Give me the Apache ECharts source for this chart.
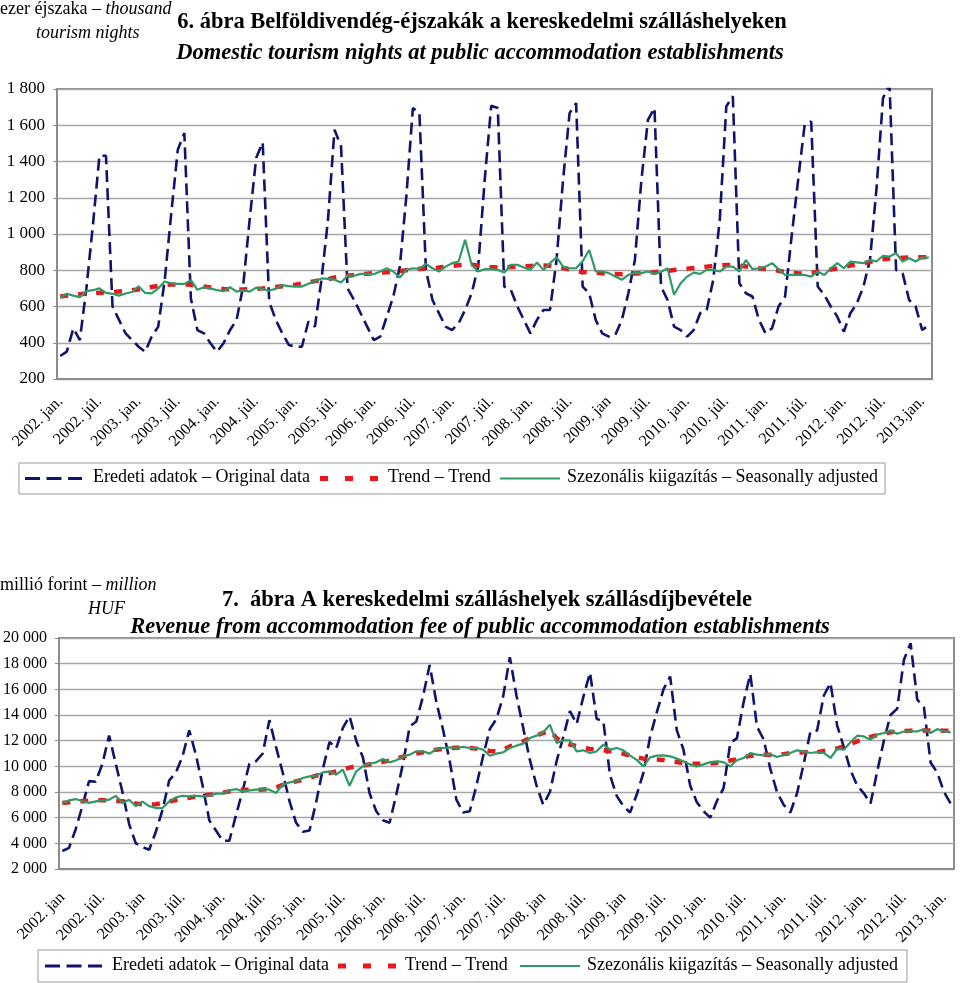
<!DOCTYPE html>
<html>
<head>
<meta charset="utf-8">
<script src="https://cdn.jsdelivr.net/npm/echarts@6/dist/echarts.min.js"></script>
<style>
html,body{margin:0;padding:0;background:#ffffff;}
#chart{width:960px;height:983px;}
</style>
</head>
<body>
<div id="chart"></div>
<script>
// ---------- categories: 2002 jan – 2013 feb (monthly) ----------
const years = [2002,2003,2004,2005,2006,2007,2008,2009,2010,2011,2012,2013];
const monthNames = ['jan.','febr.','márc.','ápr.','máj.','jún.','júl.','aug.','szept.','okt.','nov.','dec.'];
const months = [];
years.forEach(y => monthNames.forEach((m, k) => { if (y < 2013 || k < 2) months.push(y + '. ' + m); }));

// ---------- tick labels (every 6 months) ----------
const nightsTickLabels = ['2002. jan.','2002. júl.','2003. jan.','2003. júl.','2004. jan.','2004. júl.','2005. jan.','2005. júl.','2006. jan.','2006. júl.','2007. jan.','2007. júl.','2008. jan.','2008. júl.','2009. jan','2009. júl.','2010. jan.','2010. júl.','2011. jan.','2011. júl.','2012. jan.','2012. júl.','2013.jan.'];
const revenueTickLabels = ['2002. jan','2002. júl.','2003. jan','2003. júl.','2004. jan.','2004. júl.','2005. jan.','2005. júl.','2006. jan.','2006. júl.','2007. jan.','2007. júl.','2008. jan','2008. júl.','2009. jan','2009. júl.','2010. jan.','2010. júl.','2011. jan.','2011. júl.','2012. jan.','2012. júl.','2013. jan.'];

// ---------- 6. ábra: domestic tourism nights (thousand) ----------
const nightsOriginal = [
  327,351,480,415,700,1050,1432,1432,600,526,452,415,
  378,350,434,489,747,1115,1465,1557,645,470,452,397,
  350,397,470,526,710,1078,1419,1505,627,526,452,388,
  378,378,517,489,747,1078,1575,1483,700,636,563,489,
  415,434,544,655,820,1207,1695,1667,802,636,563,489,
  470,507,581,673,820,1299,1708,1695,710,692,600,526,
  452,526,581,581,857,1299,1667,1722,710,673,526,452,
  434,443,526,673,857,1299,1630,1695,710,636,489,470,
  434,470,563,581,747,1078,1704,1760,728,673,655,526,
  452,480,600,655,986,1299,1603,1621,710,664,600,544,
  461,563,618,710,857,1250,1750,1824,802,783,636,600,
  470,498
];
const nightsTrend = [
  655,660,663,667,670,673,676,678,680,683,686,690,
  694,700,708,714,718,721,722,722,720,716,710,705,
  700,697,695,694,694,695,697,700,704,708,712,716,
  720,726,733,740,746,750,760,765,770,774,778,781,
  784,787,789,792,796,800,804,808,810,811,815,820,
  824,828,830,830,826,821,817,817,817,818,820,822,
  824,825,826,825,820,812,805,795,790,788,786,783,
  780,779,778,780,782,784,786,789,793,797,801,805,
  809,813,816,820,824,827,829,829,826,821,816,811,
  807,803,797,790,786,783,781,785,792,798,804,810,
  818,826,833,839,846,854,860,865,867,869,870,871,
  872,872
];
const nightsSA = [
  650,670,660,652,685,690,700,675,670,660,672,680,
  712,675,672,700,738,728,725,725,745,692,706,700,
  690,684,706,682,690,682,704,696,688,697,718,712,
  710,710,725,740,755,752,748,732,770,770,780,780,
  778,793,811,793,760,802,811,808,835,811,793,820,
  839,848,968,830,793,806,806,802,787,830,830,815,
  802,843,802,839,872,820,811,811,850,912,793,793,
  784,765,747,774,787,784,793,780,790,811,665,728,
  765,787,780,802,802,793,820,820,793,857,806,811,
  820,839,806,774,774,774,774,765,793,774,811,839,
  811,848,843,839,857,848,880,876,894,848,866,848,
  870,870
];

// ---------- 7. ábra: revenue from accommodation fee (million HUF) ----------
const revenueOriginal = [
  3400,3650,5100,6900,8850,8800,10200,12400,10200,8000,5500,4000,
  3700,3500,4900,6600,8900,9500,10800,12800,10900,8500,5800,5000,
  4200,4200,6200,8100,10200,10400,11000,13600,11500,9500,7300,5600,
  4900,5000,7200,9800,11900,11400,13000,13900,12000,10700,7900,6500,
  5800,5600,7800,10200,13100,13500,15450,17900,15000,12850,10400,7400,
  6400,6500,8500,10800,12900,13700,15450,18500,15500,13000,10500,8500,
  7000,8000,10400,12300,14300,13300,15400,17300,13700,13500,9300,7700,
  6900,6400,7800,9500,12300,14200,16000,17000,12800,11300,8500,7200,
  6500,6000,7300,8300,11800,12200,15000,17200,13100,12100,9800,8000,
  7000,6400,7900,10200,12700,12800,15500,16500,13200,11500,9700,8500,
  7900,7100,9600,12000,14000,14500,18300,19600,15200,14600,10300,9500,
  8000,7100
];
const revenueTrend = [
  7150,7200,7250,7300,7330,7350,7350,7350,7330,7280,7200,7100,
  7050,7020,7050,7150,7270,7370,7460,7550,7650,7720,7780,7820,
  7950,8050,8120,8170,8180,8180,8190,8220,8350,8550,8700,8830,
  8960,9100,9280,9380,9480,9600,9750,9900,10000,10050,10150,10250,
  10350,10450,10600,10750,10880,11000,11100,11200,11300,11370,11420,11440,
  11440,11420,11380,11300,11200,11170,11300,11550,11750,11950,12200,12400,
  12600,12800,12200,11850,11700,11570,11450,11350,11300,11250,11170,11080,
  10980,10850,10700,10600,10570,10540,10500,10400,10330,10250,10210,10200,
  10200,10220,10270,10330,10450,10550,10700,10820,10880,10910,10910,10910,
  10950,11030,11060,11090,11090,11100,11200,11300,11400,11550,11750,11950,
  12150,12300,12430,12550,12650,12720,12760,12780,12790,12800,12800,12790,
  12780,12770
];
const revenueSA = [
  7100,7350,7450,7280,7150,7270,7350,7400,7700,7150,7400,6900,
  7250,6900,6750,6750,7270,7580,7710,7660,7710,7660,7710,7870,
  7870,8130,8230,8050,8130,8180,8230,8180,7920,8570,8750,8830,
  9090,9220,9270,9530,9610,9350,9740,8490,9610,10000,10200,10310,
  10570,10310,10470,10780,10910,11170,11170,10990,11350,11430,11480,11430,
  11510,11430,11430,11300,10830,10990,11090,11430,11610,11770,12210,12390,
  12650,13250,11820,12020,12020,11170,11250,11040,11170,11690,11300,11430,
  11250,10830,10500,10000,10700,10830,10860,10780,10600,10390,10150,10000,
  10150,10330,10390,10330,10000,10470,10650,11030,10910,10850,10950,10730,
  10900,11040,11250,11170,11040,11100,11040,10650,11350,11300,11870,12390,
  12330,12080,12470,12600,12800,12540,12720,12720,12720,12900,12600,12900,
  12720,12650
];

// ---------- styles ----------
const SERIF = '"Liberation Serif","Times New Roman",serif';
const NAVY = '#10146a', RED = '#e5191e', GREEN = '#2f9a66';
const GRIDLINE = '#a6a6a6', FRAME = '#8c8c8c';

function spaced(v) { return String(v).replace(/\B(?=(\d{3})+(?!\d))/g, ' '); }

function xAxisFor(gridIndex, ticks, margin) {
  return {
    type: 'category', gridIndex: gridIndex, data: months, boundaryGap: true,
    axisLine: { show: true, lineStyle: { color: FRAME, width: 2 } },
    axisTick: { show: false },
    splitLine: { show: false },
    axisLabel: {
      interval: 5, rotate: 45, margin: margin,
      fontFamily: SERIF, fontSize: 16, color: '#000',
      formatter: (v, idx) => ticks[Math.round(idx / 6)] || ''
    }
  };
}
function yAxisFor(gridIndex, min, max, step, size) {
  return {
    type: 'value', gridIndex: gridIndex, min: min, max: max, interval: step,
    axisLine: { show: true, lineStyle: { color: FRAME, width: 2 } },
    axisTick: { show: true, length: 4, lineStyle: { color: FRAME } },
    splitLine: { show: true, lineStyle: { color: GRIDLINE, width: 1.3 } },
    axisLabel: { fontFamily: SERIF, fontSize: size, color: '#000', margin: 12, formatter: spaced }
  };
}
function seriesFor(idx, orig, trend, sa) {
  return [
    { name: 'Eredeti adatok – Original data', type: 'line', xAxisIndex: idx, yAxisIndex: idx,
      data: orig, symbol: 'none', animation: false, z: 2,
      lineStyle: { color: NAVY, width: 2.6, type: [12, 6] } },
    { name: 'Trend – Trend', type: 'line', xAxisIndex: idx, yAxisIndex: idx,
      data: trend, symbol: 'none', animation: false, z: 3,
      lineStyle: { color: RED, width: 4.5, type: [8, 10] } },
    { name: 'Szezonális kiigazítás – Seasonally adjusted', type: 'line', xAxisIndex: idx, yAxisIndex: idx,
      data: sa, symbol: 'none', animation: false, z: 4,
      lineStyle: { color: GREEN, width: 2.2 } }
  ];
}

function legendGraphic(x, y, w, h, pos) {
  const cy = y + h / 2;
  const t = (left, text) => ({ type: 'text', left: left, top: cy - 10,
    style: { text: text, font: '18px ' + SERIF, fill: '#000' } });
  return [
    { type: 'rect', shape: { x: x, y: y, width: w, height: h },
      style: { fill: '#fff', stroke: '#9a9a9a', lineWidth: 1 } },
    { type: 'line', shape: { x1: pos[0], y1: cy, x2: pos[1], y2: cy },
      style: { stroke: NAVY, lineWidth: 2.8, lineDash: [15, 6.5] } },
    t(pos[2], 'Eredeti adatok – Original data'),
    { type: 'line', shape: { x1: pos[3], y1: cy, x2: pos[4], y2: cy },
      style: { stroke: RED, lineWidth: 5, lineDash: [8, 17] } },
    t(pos[5], 'Trend – Trend'),
    { type: 'line', shape: { x1: pos[6], y1: cy, x2: pos[7], y2: cy },
      style: { stroke: GREEN, lineWidth: 2.2 } },
    t(pos[8], 'Szezonális kiigazítás – Seasonally adjusted')
  ];
}

const chart = echarts.init(document.getElementById('chart'), null, { renderer: 'canvas' });
chart.setOption({
  backgroundColor: '#ffffff',
  animation: false,
  grid: [
    { left: 57, top: 89, width: 875, height: 290, show: true, borderColor: FRAME, borderWidth: 2, backgroundColor: 'transparent' },
    { left: 57, top: 638, width: 897, height: 231, show: true, borderColor: FRAME, borderWidth: 2, backgroundColor: 'transparent' }
  ],
  xAxis: [ xAxisFor(0, nightsTickLabels, 20), xAxisFor(1, revenueTickLabels, 26) ],
  yAxis: [ yAxisFor(0, 200, 1800, 200, 17), yAxisFor(1, 2000, 20000, 2000, 16) ],
  series: seriesFor(0, nightsOriginal, nightsTrend, nightsSA).concat(seriesFor(1, revenueOriginal, revenueTrend, revenueSA)),
  graphic: [
    { type: 'text', left: 0, top: 0, style: { text: '{n|ezer éjszaka – }{i|thousand}', font: '18px ' + SERIF, fill: '#000',
      rich: { n: { font: '18px ' + SERIF }, i: { font: 'italic 18px ' + SERIF } } } },
    { type: 'text', left: 36, top: 24, style: { text: 'tourism nights', font: 'italic 18px ' + SERIF, fill: '#000' } },
    { type: 'text', x: 482, y: 22, style: { text: '6. ábra Belföldivendég-éjszakák a kereskedelmi szálláshelyeken',
      font: 'bold 22.5px ' + SERIF, fill: '#000', textAlign: 'center', textVerticalAlign: 'middle' } },
    { type: 'text', x: 480, y: 53, style: { text: 'Domestic tourism nights at public accommodation establishments',
      font: 'italic bold 22.5px ' + SERIF, fill: '#000', textAlign: 'center', textVerticalAlign: 'middle' } },

    { type: 'text', left: 0, top: 576, style: { text: '{n|millió forint – }{i|million}', font: '18px ' + SERIF, fill: '#000',
      rich: { n: { font: '18px ' + SERIF }, i: { font: 'italic 18px ' + SERIF } } } },
    { type: 'text', left: 88, top: 600, style: { text: 'HUF', font: 'italic 18px ' + SERIF, fill: '#000' } },
    { type: 'text', x: 487, y: 600, style: { text: '7.  ábra A kereskedelmi szálláshelyek szállásdíjbevétele',
      font: 'bold 22.5px ' + SERIF, fill: '#000', textAlign: 'center', textVerticalAlign: 'middle' } },
    { type: 'text', x: 480, y: 627, style: { text: 'Revenue from accommodation fee of public accommodation establishments',
      font: 'italic bold 22.5px ' + SERIF, fill: '#000', textAlign: 'center', textVerticalAlign: 'middle' } }
  ]
  .concat(legendGraphic(19, 463, 866, 31, [25, 82, 93, 320, 380, 388, 500, 560, 567]))
  .concat(legendGraphic(38, 950, 869, 32, [45, 102, 112, 338, 398, 405, 520, 580, 587]))
});
</script>
</body>
</html>
